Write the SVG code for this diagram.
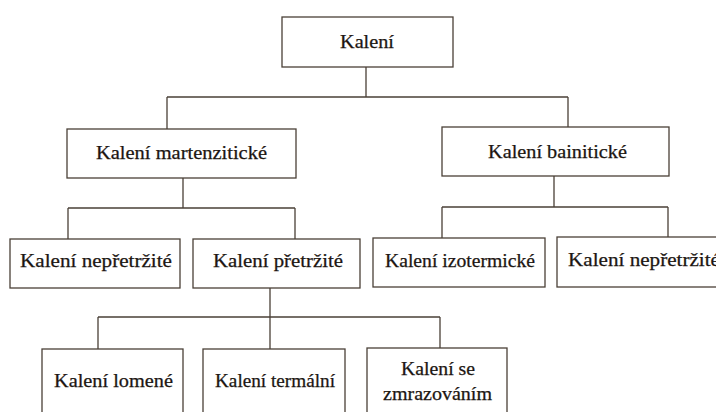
<svg xmlns="http://www.w3.org/2000/svg" width="716" height="412" viewBox="0 0 716 412">
<style>
.box{fill:#ffffff;stroke:#4a4037;stroke-width:1.3}
.ln{stroke:#4a4037;stroke-width:1.3;fill:none}
.t{font-size:18px;fill:#1c1612;stroke:#1c1612;stroke-width:0.25}
</style>
<rect width="716" height="412" fill="#ffffff"/>
<g id="connectors">
<path class="ln" d="M366 67V97M167 97H568M167 97V129M568 97V127"/>
<path class="ln" d="M183 178V208M68 208H295M68 208V239M295 208V239"/>
<path class="ln" d="M554 176V207M442 207H668M442 207V238M668 207V237"/>
<path class="ln" d="M270 288V317M98 317H440M98 317V349M270 317V349M440 317V348"/>
</g>
<g font-family="Liberation Serif, DejaVu Serif, serif">
<g id="n-kaleni"><rect class="box" x="282" y="17" width="171" height="50"/><text class="t" x="340" y="48" textLength="54" lengthAdjust="spacingAndGlyphs">Kalení</text></g>
<g id="n-martenziticke"><rect class="box" x="67" y="129" width="229" height="49"/><text class="t" x="96" y="159" textLength="171" lengthAdjust="spacingAndGlyphs">Kalení martenzitické</text></g>
<g id="n-bainiticke"><rect class="box" x="442" y="127" width="227" height="49"/><text class="t" x="488" y="158" textLength="139" lengthAdjust="spacingAndGlyphs">Kalení bainitické</text></g>
<g id="n-nepretrzite1"><rect class="box" x="10" y="239" width="170" height="49"/><text class="t" x="20" y="267" textLength="152" lengthAdjust="spacingAndGlyphs">Kalení nepřetržité</text></g>
<g id="n-pretrzite"><rect class="box" x="193" y="239" width="167" height="49"/><text class="t" x="213" y="267" textLength="130" lengthAdjust="spacingAndGlyphs">Kalení přetržité</text></g>
<g id="n-izotermicke"><rect class="box" x="373" y="238" width="172" height="49"/><text class="t" x="385" y="267" textLength="150" lengthAdjust="spacingAndGlyphs">Kalení izotermické</text></g>
<g id="n-nepretrzite2"><rect class="box" x="557" y="237" width="175" height="50"/><text class="t" x="568" y="266" textLength="152" lengthAdjust="spacingAndGlyphs">Kalení nepřetržité</text></g>
<g id="n-lomene"><rect class="box" x="42" y="349" width="141" height="80"/><text class="t" x="54" y="387" textLength="119" lengthAdjust="spacingAndGlyphs">Kalení lomené</text></g>
<g id="n-termalni"><rect class="box" x="203" y="349" width="142" height="80"/><text class="t" x="215" y="387" textLength="120" lengthAdjust="spacingAndGlyphs">Kalení termální</text></g>
<g id="n-zmrazovanim"><rect class="box" x="367" y="348" width="140" height="80"/><text class="t" x="401" y="375" textLength="74" lengthAdjust="spacingAndGlyphs">Kalení se</text><text class="t" x="383" y="400" textLength="109" lengthAdjust="spacingAndGlyphs">zmrazováním</text></g>
</g>
</svg>
